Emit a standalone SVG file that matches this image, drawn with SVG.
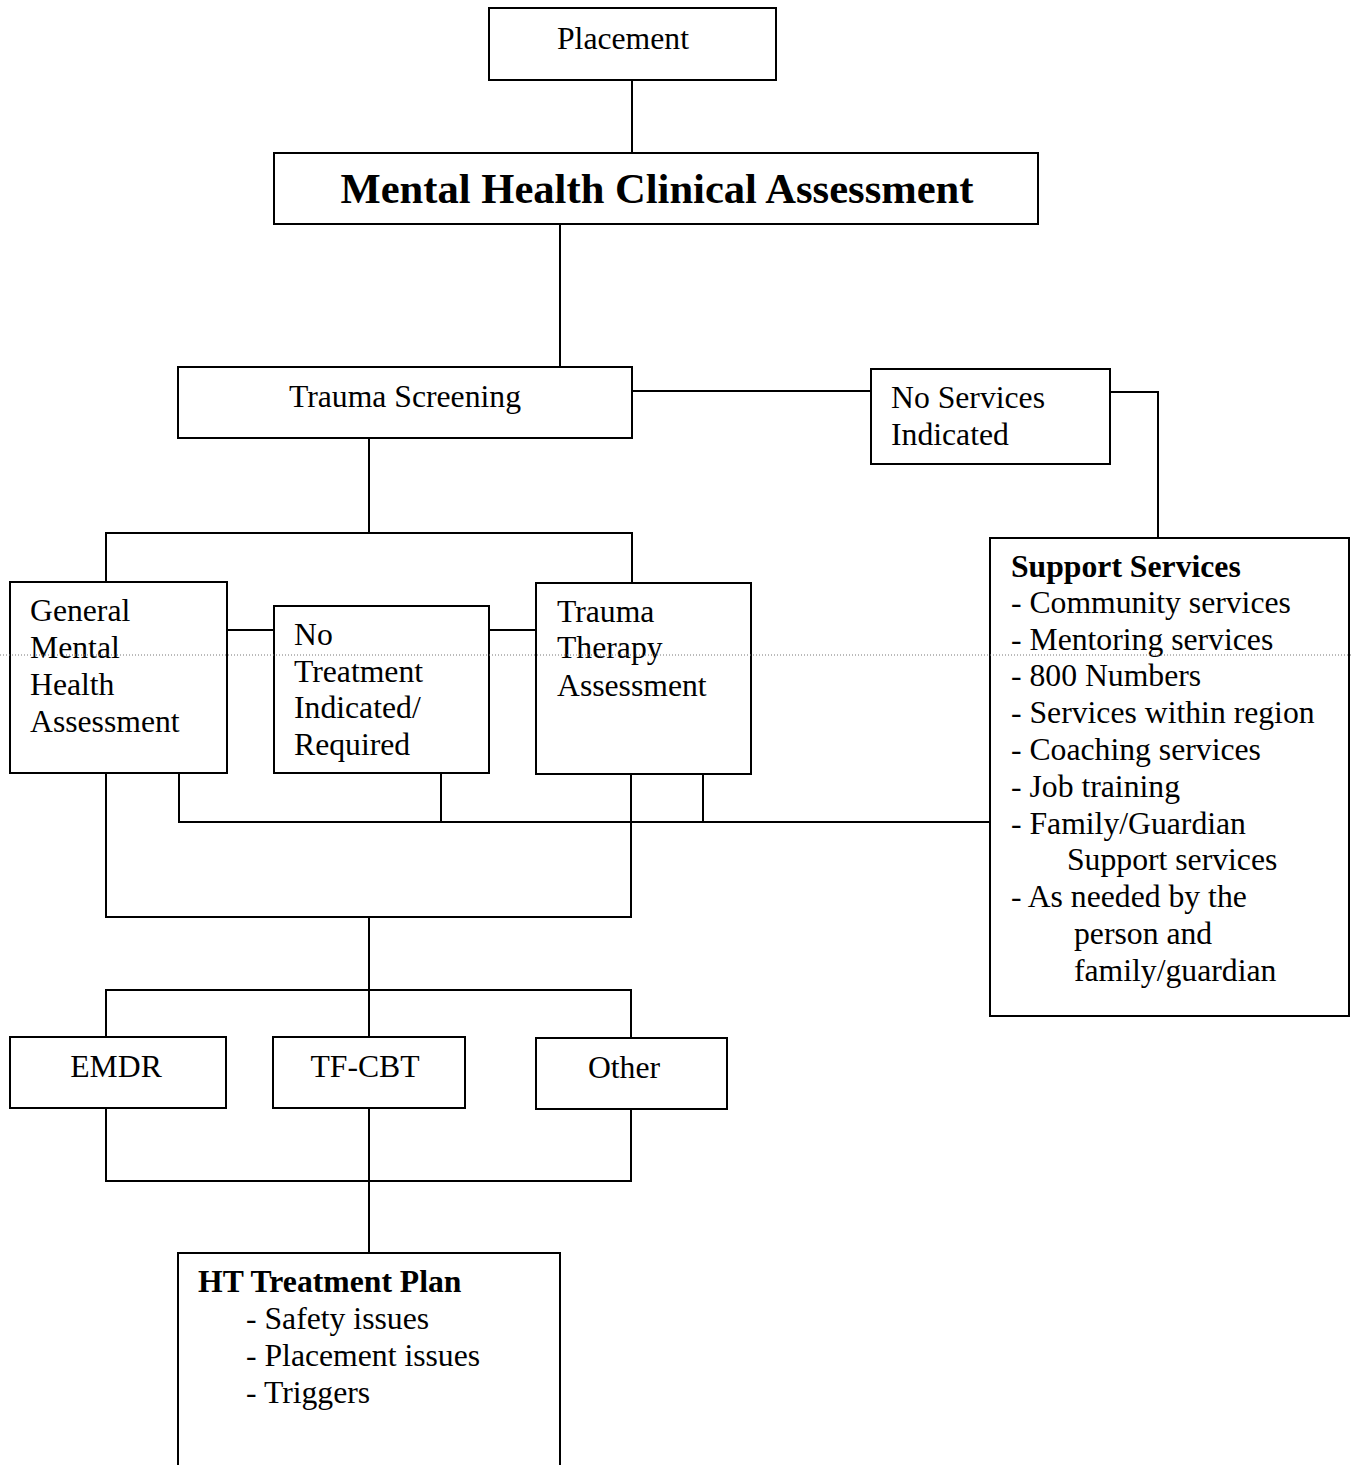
<svg xmlns="http://www.w3.org/2000/svg" width="1352" height="1465" viewBox="0 0 1352 1465">
<style>
.box{fill:#fff;stroke:#000;stroke-width:2}
.c{fill:none;stroke:#000;stroke-width:2}
text{font-family:"Liberation Serif","Times New Roman",serif;font-size:31.7px;fill:#000}
.b{font-weight:bold}
.m{text-anchor:middle}
</style>
<rect width="1352" height="1465" fill="#fff"/>
<g id="connectors">
<path class="c" d="M632 80V153"/>
<path class="c" d="M560 224V367"/>
<path class="c" d="M632 391H871"/>
<path class="c" d="M1110 392H1158V538"/>
<path class="c" d="M369 438V533M106 582V533H632V583"/>
<path class="c" d="M227 630H274M489 630H536"/>
<path class="c" d="M179 773V822H990M441 773V822M703 774V822"/>
<path class="c" d="M106 773V917H631V774M369 917V990"/>
<path class="c" d="M106 1037V990H631V1038M369 990V1037"/>
<path class="c" d="M106 1108V1181H631V1109M369 1108V1253"/>
</g>
<g id="placement"><rect class="box" x="489" y="8" width="287" height="72"/><text class="m" x="623" y="49">Placement</text></g>
<g id="mhca"><rect class="box" x="274" y="153" width="764" height="71"/><text class="m b" x="657" y="203" style="font-size:42.6px">Mental Health Clinical Assessment</text></g>
<g id="trauma-screening"><rect class="box" x="178" y="367" width="454" height="71"/><text class="m" x="405" y="407">Trauma Screening</text></g>
<g id="no-services"><rect class="box" x="871" y="369" width="239" height="95"/><text x="891" y="408">No Services</text><text x="891" y="445">Indicated</text></g>
<g id="support-services"><rect class="box" x="990" y="538" width="359" height="478"/>
<text class="b" x="1011" y="577">Support Services</text>
<text x="1011" y="613">- Community services</text>
<text x="1011" y="650">- Mentoring services</text>
<text x="1011" y="686">- 800 Numbers</text>
<text x="1011" y="723">- Services within region</text>
<text x="1011" y="760">- Coaching services</text>
<text x="1011" y="797">- Job training</text>
<text x="1011" y="834">- Family/Guardian</text>
<text x="1067" y="870">Support services</text>
<text x="1011" y="907">- As needed by the</text>
<text x="1074" y="944">person and</text>
<text x="1074" y="981">family/guardian</text>
</g>
<g id="general-mh"><rect class="box" x="10" y="582" width="217" height="191"/><text x="30" y="621">General</text><text x="30" y="658">Mental</text><text x="30" y="695">Health</text><text x="30" y="732">Assessment</text></g>
<g id="no-treatment"><rect class="box" x="274" y="606" width="215" height="167"/><text x="294" y="645">No</text><text x="294" y="682">Treatment</text><text x="294" y="718">Indicated/</text><text x="294" y="755">Required</text></g>
<g id="trauma-therapy"><rect class="box" x="536" y="583" width="215" height="191"/><text x="557" y="622">Trauma</text><text x="557" y="658">Therapy</text><text x="557" y="696">Assessment</text></g>
<g id="emdr"><rect class="box" x="10" y="1037" width="216" height="71"/><text class="m" x="116" y="1077">EMDR</text></g>
<g id="tf-cbt"><rect class="box" x="273" y="1037" width="192" height="71"/><text class="m" x="365" y="1077">TF-CBT</text></g>
<g id="other"><rect class="box" x="536" y="1038" width="191" height="71"/><text class="m" x="624" y="1078">Other</text></g>
<g id="ht-plan"><path class="box" d="M178 1466V1253H560V1466"/>
<text class="b" x="198" y="1292">HT Treatment Plan</text>
<text x="246" y="1329">- Safety issues</text>
<text x="246" y="1366">- Placement issues</text>
<text x="246" y="1403">- Triggers</text>
</g>
<line x1="0" y1="655" x2="1352" y2="655" stroke="#777" stroke-width="1" stroke-dasharray="1 2"/>
</svg>
